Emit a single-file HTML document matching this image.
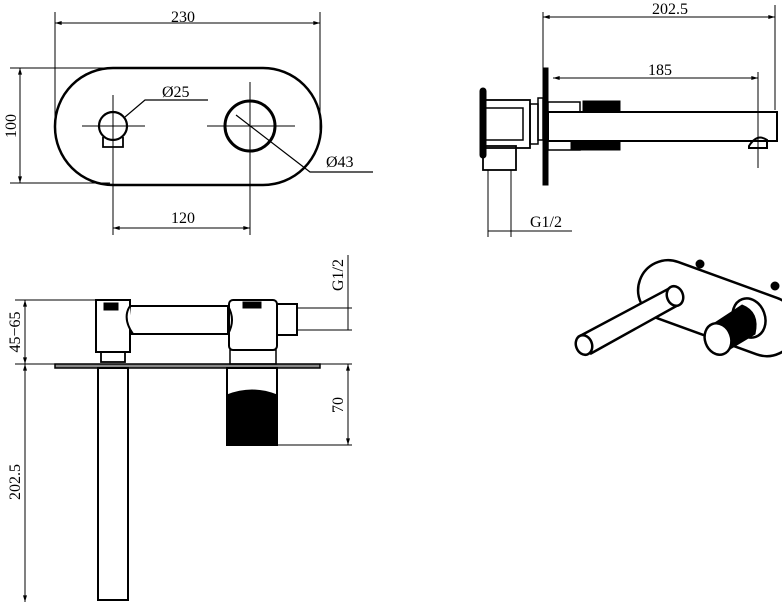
<!DOCTYPE html>
<html><head><meta charset="utf-8"><style>
html,body{margin:0;padding:0;background:#fff}
svg{display:block}
text{font-family:"Liberation Serif",serif;fill:#000}
</style></head><body>
<svg width="782" height="606" viewBox="0 0 782 606" xmlns="http://www.w3.org/2000/svg">
<defs><marker id="a" viewBox="0 0 10 6" refX="10" refY="3" markerWidth="8" markerHeight="4" orient="auto-start-reverse"><path d="M0,0L10,3L0,6z" fill="#000"/></marker></defs>
<g stroke="#000" fill="none">
<!-- top-left view -->
<rect x="55" y="68" width="266" height="117" rx="58" stroke-width="2.5"/>
<line x1="55" y1="12" x2="55" y2="120" stroke-width="1"/>
<line x1="320" y1="12" x2="320" y2="130" stroke-width="1"/>
<line x1="55" y1="23" x2="320" y2="23" stroke-width="1" marker-start="url(#a)" marker-end="url(#a)"/>
<line x1="10" y1="68" x2="110" y2="68" stroke-width="1"/>
<line x1="10" y1="183" x2="110" y2="183" stroke-width="1"/>
<line x1="20" y1="68" x2="20" y2="183" stroke-width="1" marker-start="url(#a)" marker-end="url(#a)"/>
<circle cx="113" cy="126" r="14" stroke-width="2.2"/>
<path d="M103,137 V147 H123 V137" stroke-width="1.8"/>
<line x1="82" y1="126" x2="145" y2="126" stroke-width="1"/>
<line x1="113" y1="95" x2="113" y2="235" stroke-width="1"/>
<circle cx="250" cy="126" r="25" stroke-width="3"/>
<line x1="207" y1="126" x2="295" y2="126" stroke-width="1"/>
<line x1="250" y1="82" x2="250" y2="235" stroke-width="1"/>
<polyline points="125,117 145,100 208,100" stroke-width="1.2"/>
<polyline points="236,115 310,172 373,172" stroke-width="1.2"/>
<line x1="113" y1="228" x2="250" y2="228" stroke-width="1" marker-start="url(#a)" marker-end="url(#a)"/>
<!-- top-right view -->
<line x1="543" y1="12" x2="543" y2="70" stroke-width="1"/>
<line x1="775" y1="5" x2="775" y2="110" stroke-width="1"/>
<line x1="543" y1="17" x2="775" y2="17" stroke-width="1" marker-start="url(#a)" marker-end="url(#a)"/>
<line x1="758" y1="72" x2="758" y2="168" stroke-width="1"/>
<line x1="553" y1="78" x2="758" y2="78" stroke-width="1" marker-start="url(#a)" marker-end="url(#a)"/>
<rect x="543" y="68" width="5" height="117" fill="#000" stroke-width="1"/>
<rect x="538" y="98" width="5" height="42" stroke-width="1.5"/>
<rect x="548" y="112" width="229" height="29" stroke-width="2"/>
<rect x="548" y="102" width="32" height="10" stroke-width="1.5"/>
<rect x="548" y="141" width="32" height="9" stroke-width="1.5"/>
<rect x="583" y="101" width="37" height="11" fill="#000" stroke-width="1"/>
<rect x="571" y="141" width="49" height="9" fill="#000" stroke-width="1"/>
<path d="M749,146 Q757,133 767,140 V148 H749 Z" stroke-width="2"/>
<rect x="480" y="88" width="6" height="70" rx="3" fill="#000"/>
<rect x="485" y="100" width="45" height="48" stroke-width="1.8"/>
<rect x="485" y="108" width="38" height="32" stroke-width="1.5"/>
<rect x="530" y="104" width="8" height="40" stroke-width="1.5"/>
<rect x="483" y="146" width="33" height="24" stroke-width="1.8"/>
<line x1="488" y1="170" x2="488" y2="237" stroke-width="1"/>
<line x1="511" y1="170" x2="511" y2="237" stroke-width="1"/>
<line x1="488" y1="231" x2="572" y2="231" stroke-width="1"/>
<!-- bottom-left view -->
<rect x="55" y="364" width="265" height="4" fill="#888" stroke-width="1.5"/>
<line x1="15" y1="300" x2="96" y2="300" stroke-width="1"/>
<line x1="15" y1="364" x2="55" y2="364" stroke-width="1"/>
<line x1="25" y1="300" x2="25" y2="364" stroke-width="1" marker-start="url(#a)" marker-end="url(#a)"/>
<line x1="25" y1="364" x2="25" y2="602" stroke-width="1" marker-start="url(#a)" marker-end="url(#a)"/>
<rect x="96" y="300" width="34" height="52" stroke-width="2"/>
<rect x="104" y="303" width="14" height="7" fill="#000"/>
<rect x="101" y="352" width="24" height="10" stroke-width="1.8"/>
<rect x="130" y="306" width="98" height="28" stroke-width="2"/>
<path d="M130,306 Q122,318 133,334" stroke-width="2" fill="#fff"/>
<path d="M228,306 Q236,320 228,334" stroke-width="2" fill="#fff"/>
<rect x="229" y="300" width="48" height="50" rx="4" stroke-width="2"/>
<rect x="243" y="302" width="18" height="6" fill="#000"/>
<rect x="277" y="304" width="20" height="31" stroke-width="2"/>
<line x1="297" y1="308" x2="352" y2="308" stroke-width="1"/>
<line x1="297" y1="330" x2="352" y2="330" stroke-width="1"/>
<line x1="348" y1="255" x2="348" y2="330" stroke-width="1"/>
<rect x="230" y="350" width="46" height="14" stroke-width="1.5"/>
<rect x="98" y="368" width="30" height="232" stroke-width="2"/>
<rect x="227" y="368" width="50" height="77" stroke-width="2"/>
<path d="M227,395 Q252,385 277,395 V445 H227 Z" fill="#000"/>
<line x1="277" y1="364" x2="352" y2="364" stroke-width="1"/>
<line x1="277" y1="445" x2="352" y2="445" stroke-width="1"/>
<line x1="348" y1="364" x2="348" y2="445" stroke-width="1" marker-start="url(#a)" marker-end="url(#a)"/>
<!-- iso view -->
<rect x="635" y="278" width="165" height="60" rx="30" transform="rotate(20 717 308)" stroke-width="2.5" fill="#fff"/>
<circle cx="700" cy="264" r="4" fill="#000"/>
<circle cx="775" cy="286" r="4" fill="#000"/>
<path d="M578,337 L670,288 Q684,290 680,304 L590,354" stroke-width="2.5" fill="#fff"/>
<ellipse cx="675" cy="296" rx="8" ry="10" transform="rotate(-20 675 296)" stroke-width="2.5" fill="#fff"/>
<ellipse cx="584" cy="345" rx="8" ry="10" transform="rotate(-20 584 345)" stroke-width="2.5" fill="#fff"/>
<ellipse cx="749" cy="318" rx="16" ry="20" transform="rotate(-20 749 318)" stroke-width="2.5" fill="#fff"/>
<path d="M710,326 L742,305 Q760,312 755,334 L725,352 Z" fill="#000"/>
<ellipse cx="718" cy="339" rx="13" ry="16" transform="rotate(-20 718 339)" stroke-width="2.5" fill="#fff"/>
</g>
<text x="183" y="22" font-size="16" text-anchor="middle">230</text>
<text x="16" y="126" font-size="16" text-anchor="middle" transform="rotate(-90 16 126)">100</text>
<text x="162" y="97" font-size="16">Ø25</text>
<text x="326" y="167" font-size="16">Ø43</text>
<text x="183" y="223" font-size="16" text-anchor="middle">120</text>
<text x="670" y="14" font-size="16" text-anchor="middle">202.5</text>
<text x="660" y="75" font-size="16" text-anchor="middle">185</text>
<text x="530" y="227" font-size="16">G1/2</text>
<text x="343" y="275" font-size="16" text-anchor="middle" transform="rotate(-90 343 275)">G1/2</text>
<text x="20" y="332" font-size="16" text-anchor="middle" transform="rotate(-90 20 332)">45−65</text>
<text x="20" y="482" font-size="16" text-anchor="middle" transform="rotate(-90 20 482)">202.5</text>
<text x="343" y="405" font-size="16" text-anchor="middle" transform="rotate(-90 343 405)">70</text>
</svg>
</body></html>
